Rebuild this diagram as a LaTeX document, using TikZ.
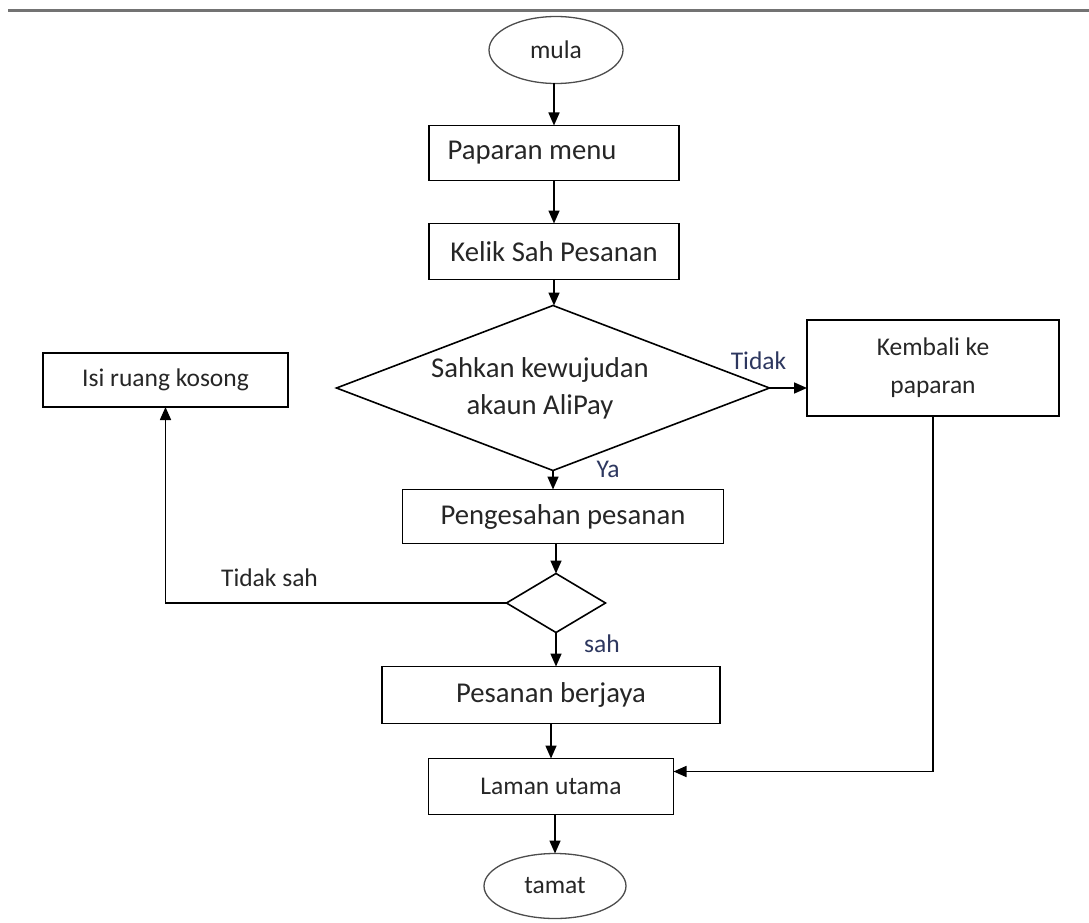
\documentclass[tikz,border=0pt]{standalone}
\usepackage{fontspec}
\setmainfont{Carlito}
\usetikzlibrary{shapes.geometric, arrows.meta, positioning, calc}

\definecolor{labelblue}{RGB}{45,55,95}

\begin{document}
\begin{tikzpicture}[
    x=1pt, y=-1pt,
    node distance=40pt,
    every node/.style={font=\fontsize{25.5}{38}\selectfont, outer sep=0pt, text=black!85},
    bigtext/.style={font=\fontsize{28.7}{37}\selectfont},
    box/.style={draw, line width=1.6pt, minimum width=250pt, minimum height=55pt, align=center},
    terminal/.style={draw=black!70, ellipse, line width=1.3pt},
    decision/.style={draw, diamond, line width=1.6pt, align=center, inner sep=0pt},
    arrow/.style={-{Triangle[length=13pt, width=11pt]}, line width=1.6pt},
    lbl/.style={text=labelblue},
    rule/.style={draw=black!55, line width=3pt}
]
\useasboundingbox (0,0) rectangle (1089,923);

% Page rule
\draw[rule] (8,11) -- (1089,11);

% Main column
\node[terminal, minimum width=134pt, minimum height=67pt] (start) at (556,50) {mula};
\node[box, bigtext, below=42pt of start, xshift=-2pt] (menu) {Paparan menu\hspace*{44pt}};
\node[box, bigtext, below=43pt of menu, minimum height=56pt] (confirm) {Kelik Sah Pesanan};
\node[decision, bigtext, below=26pt of confirm, xshift=-1pt, shape aspect=2.6, minimum width=433pt, minimum height=165pt] (verify) {Sahkan kewujudan\hspace*{26pt}\\akaun AliPay\hspace*{26pt}};
\node[box, bigtext, below=19pt of verify, xshift=10pt, minimum width=321pt, minimum height=54pt] (approve) {Pengesahan pesanan};
\node[decision, below=30pt of approve, xshift=-7pt, minimum width=99pt, minimum height=59pt] (check) {};
\node[box, bigtext, below=34pt of check, xshift=-5pt, minimum width=338pt, minimum height=57pt] (success) {Pesanan berjaya};
\node[box, below=35pt of success, minimum width=245pt, minimum height=56pt] (home) {Laman utama};
\node[terminal, below=39pt of home, xshift=4pt, minimum width=142pt, minimum height=65pt] (finish) {tamat};

% Side boxes
\node[box, minimum width=252pt, minimum height=96pt] (back) at (933,368) {Kembali ke\\paparan};
\node[box, minimum width=245pt, minimum height=54pt] (blank) at (165.5,380) {Isi ruang kosong};

% Labels
\node[lbl] (nolbl) at ($(verify.east)+(-11,-27)$) {Tidak};
\node[lbl] (yeslbl) at ($(verify.south)+(55,-1)$) {Ya};
\node[lbl] (sahlbl) at ($(check.south)+(46,11)$) {sah};
\node (invalidlbl) at ($(check.west)+(-237,-25)$) {Tidak sah};

% Arrows
\draw[arrow] (menu.north |- start.south) -- (menu.north);
\draw[arrow] (menu) -- (confirm);
\draw[arrow] (confirm.south) -- (confirm.south |- verify.north);
\draw[arrow] (verify.east) -- (verify.east -| back.west);
\draw[arrow] (verify.south) -- (verify.south |- approve.north);
\draw[arrow] (approve.south -| check.north) -- (check.north);
\draw[arrow] (check.west) -| (blank.south);
\draw[arrow] (check.south) -- (check.south |- success.north);
\draw[arrow] (success) -- (home);
\draw[arrow] (back.south) |- ([yshift=15pt]home.east);
\draw[arrow] (finish.north |- home.south) -- (finish.north);

\end{tikzpicture}
\end{document}
